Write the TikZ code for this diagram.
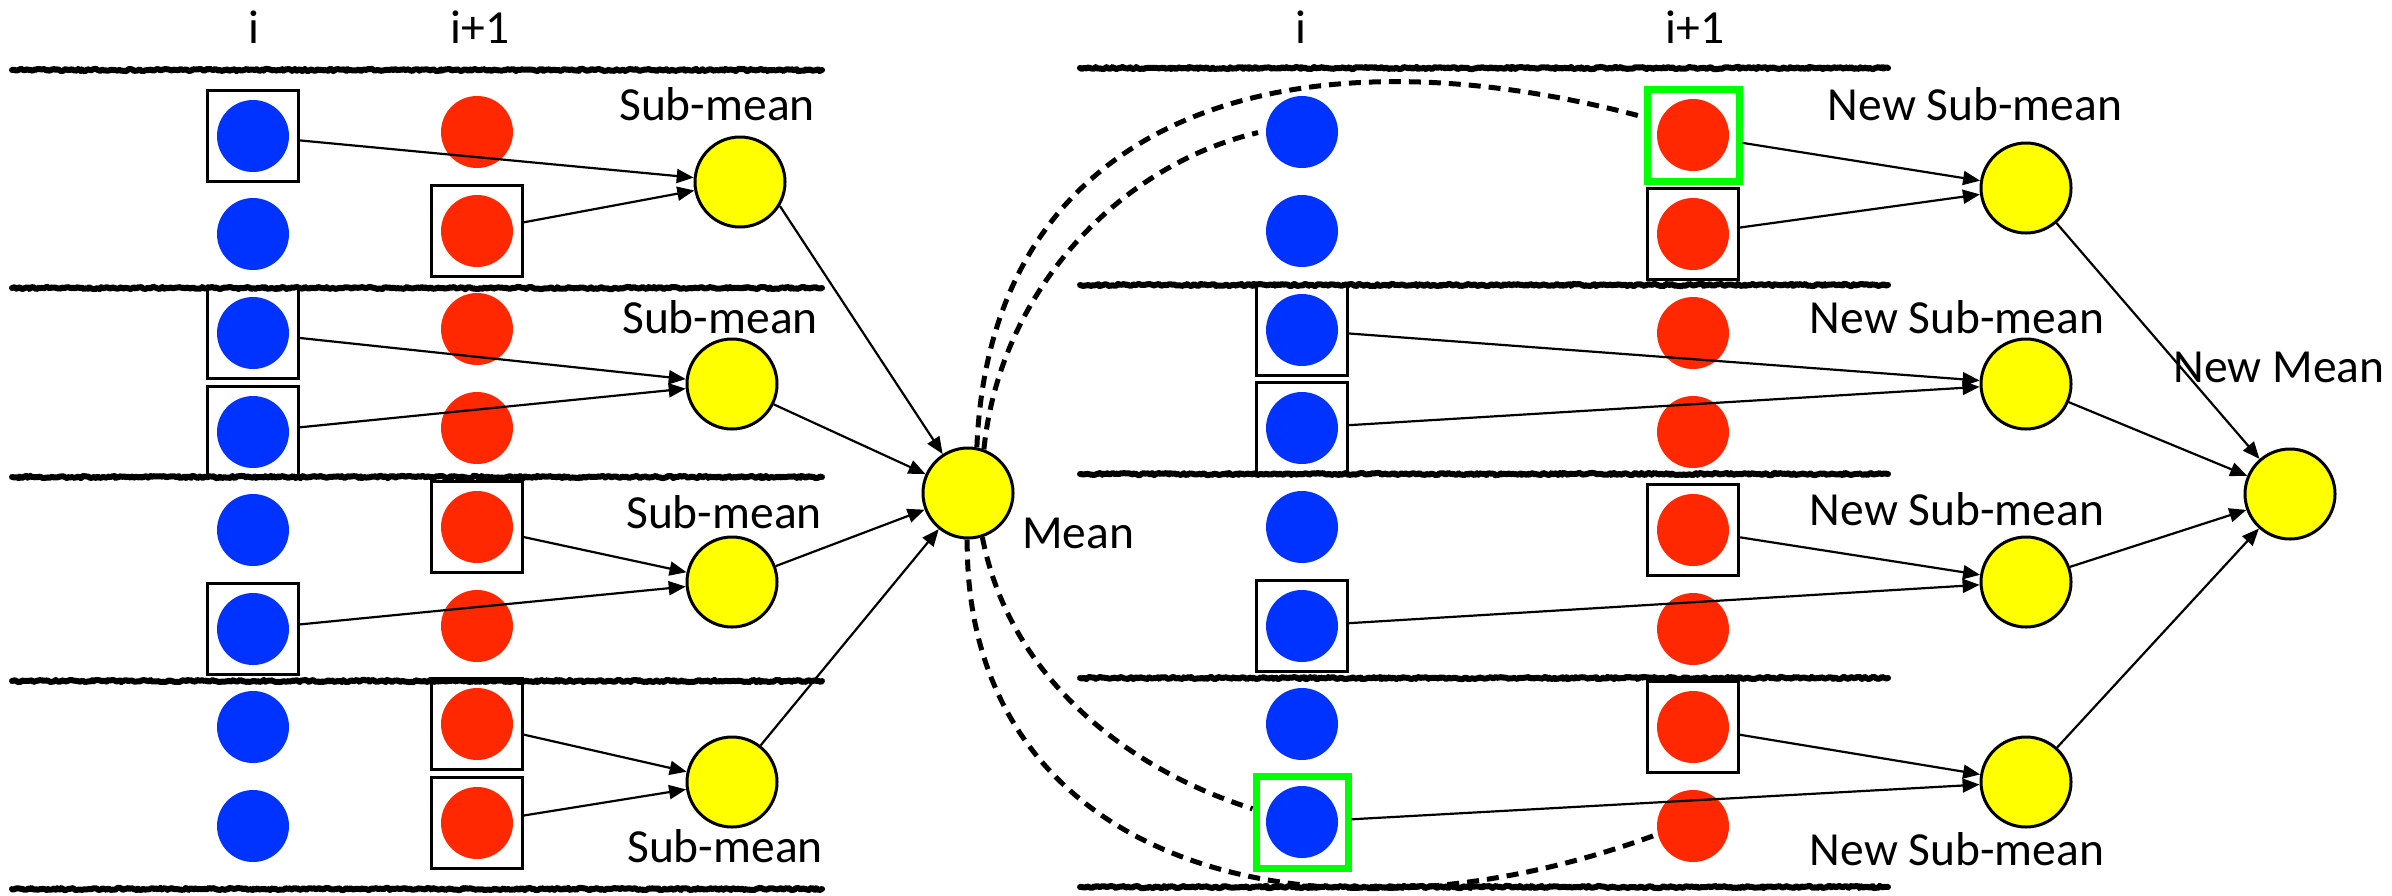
\documentclass[tikz,border=0pt]{standalone}
\usepackage{fontspec}
\setmainfont{Carlito}
\usetikzlibrary{arrows.meta,decorations.pathmorphing}
\definecolor{dotblue}{RGB}{0,51,255}
\definecolor{dotred}{RGB}{255,40,0}
\definecolor{meanyellow}{RGB}{255,255,0}
\definecolor{pickgreen}{RGB}{0,255,0}

\begin{document}
\begin{tikzpicture}[x=1pt,y=-1pt,
  dot/.style={circle,minimum size=72pt,inner sep=0pt},
  bdot/.style={dot,fill=dotblue},
  rdot/.style={dot,fill=dotred},
  pick/.style={draw,line width=2.7pt,minimum size=91.3pt,inner sep=0pt},
  gpick/.style={draw=pickgreen,line width=7pt,minimum size=92pt,inner sep=0pt},
  avg/.style={circle,draw,line width=3pt,fill=meanyellow,minimum size=90pt,inner sep=0pt},
  arr/.style={line width=2.2pt,-{Triangle[length=17pt,width=14pt]}},
  link/.style={line width=5pt,dash pattern=on 12pt off 8pt},
  band/.style={line width=6pt,line join=round,line cap=round,decorate,
    decoration={random steps,segment length=2pt,amplitude=1.1pt}},
  lbl/.style={font=\fontsize{47.5}{57}\selectfont,anchor=base,inner sep=0pt}]

\useasboundingbox (0,0) rectangle (2392,895);
\pgfmathsetseed{7}

% separators between the sample groups
\foreach \yy in {70,288,477,681,889}
  \draw[band] (12,\yy) -- (822,\yy);
\foreach \yy in {68,285,474,678,887}
  \draw[band] (1080,\yy) -- (1888,\yy);

% column headers
\node[lbl] (hLi)  at (254,43)  {i};
\node[lbl] (hLi1) at (480,43)  {i+1};
\node[lbl] (hRi)  at (1301,43) {i};
\node[lbl] (hRi1) at (1695,43) {i+1};

% ---------- left half: samples ----------
\foreach \k/\yy in {1/136,2/234,3/333,4/432,5/530,6/629,7/727,8/826}
  \node[bdot] (Lb\k) at (253,\yy) {};
\foreach \k/\yy in {1/132,2/231,3/329,4/428,5/527,6/626,7/724,8/823}
  \node[rdot] (Lr\k) at (477,\yy) {};

\foreach \k in {1,3,4,6}
  \node[pick] (Lb\k p) at (Lb\k) {};
\foreach \k in {2,5,7,8}
  \node[pick] (Lr\k p) at (Lr\k) {};

% sub-means and mean
\node[avg] (S1) at (740,182) {};
\node[avg] (S2) at (732,384) {};
\node[avg] (S3) at (732,582) {};
\node[avg] (S4) at (732,782) {};
\node[avg] (M)  at (968,493) {};

\node[lbl] (tS1) at (717,120) {Sub-mean};
\node[lbl] (tS2) at (720,333) {Sub-mean};
\node[lbl] (tS3) at (724,528) {Sub-mean};
\node[lbl] (tS4) at (725,862) {Sub-mean};
\node[lbl,anchor=base west] (tM) at (1022,548) {Mean};

\draw[arr] (Lb1p) -- (S1);
\draw[arr] (Lr2p) -- (S1);
\draw[arr] (Lb3p) -- (S2);
\draw[arr] (Lb4p) -- (S2);
\draw[arr] (Lr5p) -- (S3);
\draw[arr] (Lb6p) -- (S3);
\draw[arr] (Lr7p) -- (S4);
\draw[arr] (Lr8p) -- (S4);

\draw[arr] (S1.-31) -- (M.123);
\draw[arr] (S2.-26) -- (M.156);
\draw[arr] (S3.20)  -- (M.201);
\draw[arr] (S4.52)  -- (M.231);

% ---------- right half: samples ----------
\foreach \k/\yy in {1/132,2/231,3/330,4/428,5/527,6/626,7/724,8/822}
  \node[bdot] (Rb\k) at (1302,\yy) {};
\foreach \k/\yy in {1/135,2/234,3/333,4/432,5/530,6/629,7/727,8/826}
  \node[rdot] (Rr\k) at (1693,\yy) {};

\node[gpick] (Rr1p) at (Rr1) {};
\node[gpick] (Rb8p) at (Rb8) {};
\foreach \k in {3,4,6}
  \node[pick] (Rb\k p) at (Rb\k) {};
\foreach \k in {2,5,7}
  \node[pick] (Rr\k p) at (Rr\k) {};

% new sub-means and new mean
\node[avg] (N1) at (2026,188) {};
\node[avg] (N2) at (2026,384) {};
\node[avg] (N3) at (2026,582) {};
\node[avg] (N4) at (2026,782) {};
\node[avg] (NM) at (2290,494) {};

\node[lbl] (tN1) at (1975,120) {New Sub-mean};
\node[lbl] (tN2) at (1957,333) {New Sub-mean};
\node[lbl] (tN3) at (1957,525) {New Sub-mean};
\node[lbl] (tN4) at (1957,865) {New Sub-mean};
\node[lbl] (tNM) at (2279,382) {New Mean};

\draw[arr] (Rr1p) -- (N1);
\draw[arr] (Rr2p) -- (N1);
\draw[arr] (Rb3p) -- (N2);
\draw[arr] (Rb4p) -- (N2);
\draw[arr] (Rr5p) -- (N3);
\draw[arr] (Rb6p) -- (N3);
\draw[arr] (Rr7p) -- (N4);
\draw[arr] (Rb8p) -- (N4);

\draw[arr] (N1.-49) -- (NM.131);
\draw[arr] (N2.-23) -- (NM.157);
\draw[arr] (N3.19)  -- (NM.200);
\draw[arr] (N4.48)  -- (NM.228);

% dashed links from the mean to the nearest samples
\draw[link] (M.79)  .. controls (990,120) and (1280,20) .. (Rr1p.160);
\draw[link,shorten >=8pt] (M.70)  .. controls (1000,290) and (1120,165) .. (Rb1.178);
\draw[link] (M.-91) .. controls (965,870) and (1320,960) .. (Rr8.193);
\draw[link] (M.-72) .. controls (1010,680) and (1130,770) .. (Rb8p.165);

\end{tikzpicture}
\end{document}
